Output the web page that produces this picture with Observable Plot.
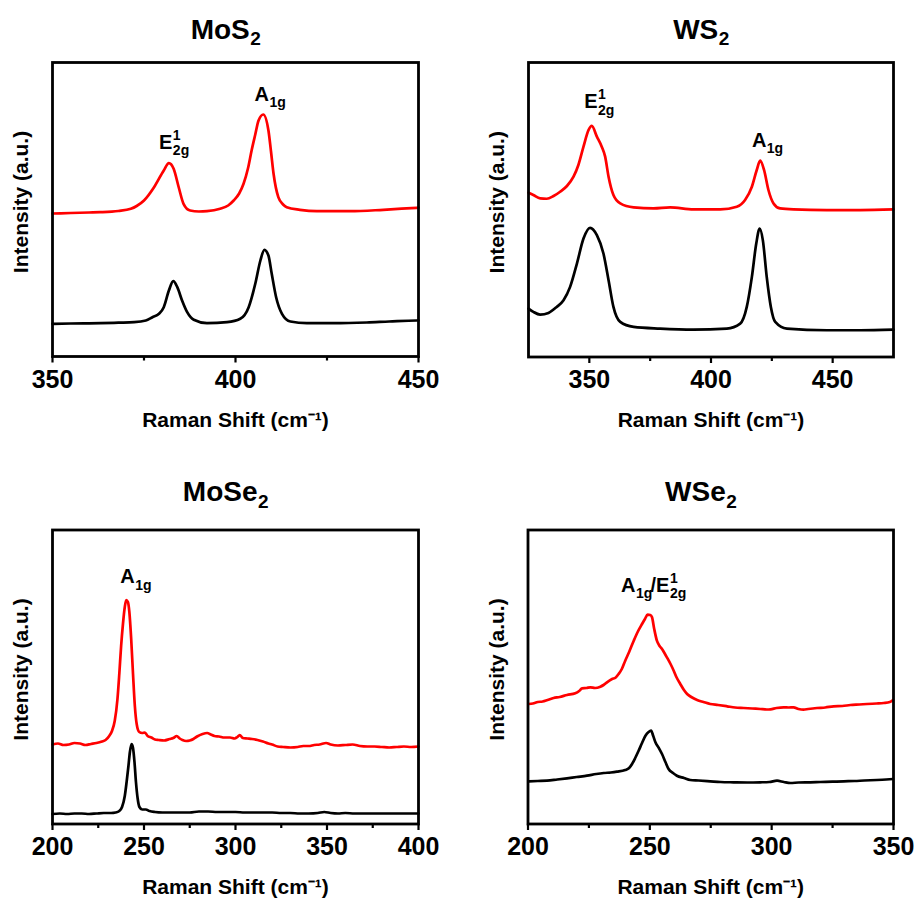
<!DOCTYPE html>
<html><head><meta charset="utf-8">
<script src="https://cdn.jsdelivr.net/npm/d3@7"></script>
<script src="https://cdn.jsdelivr.net/npm/@observablehq/plot@0.6"></script>
<style>
body{margin:0;background:#fff;}
#root{position:relative;width:917px;height:901px;overflow:hidden;background:#fff;}
#root svg{position:absolute;overflow:visible;}
</style></head><body><div id="root"></div>
<script>
// ---------------- DATA (Raman shift cm^-1, intensity a.u.) ----------------
const mos2Red = [[350,143],[355,143.5],[360,144],[363,144.3],[368,145.5],[371.4,147.7],[373,150.5],[375,156],[377.7,169],[380.4,186],[381.8,193.3],[383.1,187.7],[384.5,169],[385.8,152.7],[387.6,146],[390,145],[392.2,145.3],[395.8,147.7],[398,151],[399.5,156],[401,163],[402.2,172.7],[403.4,188],[404.4,206],[405.4,222],[406.3,236],[407.6,242],[409,226],[409.7,205],[410.4,182.7],[411.7,159.3],[413,152],[414,149.3],[417.6,146.7],[422.2,145.3],[431.3,145.3],[440.4,146.7],[449.5,148.7],[450,148.8]];
const mos2Black = [[350,32.7],[355,33],[363.2,33.3],[368,33.8],[372.3,34.3],[375.5,36],[377.3,39.3],[379.1,42.7],[380.4,49.3],[381.8,66],[383,75.3],[384.1,69.3],[385.4,56],[386.8,44.3],[388.6,36.7],[392.2,33.3],[397.7,34.3],[401.3,37.7],[403.6,49.3],[405.4,72.7],[406.8,96],[407.9,106.7],[409,101],[409.9,82.7],[411.1,59.3],[412.7,42.7],[415,35],[419.5,33.3],[426.8,33.3],[435.9,34],[442,35],[449.5,36],[450,36]];

const ws2Red = [[325,164],[327,161.7],[329.8,158.3],[332.5,158],[335.3,160.7],[338,165],[340.8,170.7],[343.5,180],[345.5,191.7],[347.6,210],[349.7,226.7],[351,230.7],[353.1,220],[355.1,210],[356.5,200],[357.9,180],[359.9,161.7],[362.7,153.3],[368.2,149.3],[376.4,148.3],[383.2,149.3],[392.8,147.3],[403.8,147.3],[410.6,150],[414,156.7],[416.8,170],[418.8,186.7],[420.2,196],[421.8,186.7],[423.6,166.7],[425.7,153.3],[428.4,148.3],[433.9,147.3],[447.6,146.7],[461.3,146.7],[475,147.3]];
const ws2Black = [[325,48.3],[327,45],[329.8,42.3],[333.2,44],[336.6,50],[339.4,56.7],[342.1,70],[344.9,93.3],[347.6,118.3],[350.3,129],[353.1,121.7],[355.8,103.3],[357.9,76.7],[359.9,50],[362.7,35],[368.2,30],[379.1,28.3],[392.8,27.3],[406.5,28.3],[412,33.3],[414.7,50],[416.8,80],[418.6,113.3],[420,128.3],[421.3,116.7],[422.9,80],[424.6,50],[426.4,35],[431.2,28.3],[447.6,26.7],[461.3,26.7],[475,27.3]];

const mose2Red = [[200,79.5],[203,80.5],[206,79],[209,79.5],[212,81],[215,80.5],[218,79],[221,80],[224,81],[227,82.5],[229,84],[231,88],[232.5,93],[234,103],[235.5,125],[236.5,150],[237.5,178],[238.5,200],[239.5,217],[240.3,224],[241.2,222],[242,212],[243,185],[244,150],[245,118],[246,100],[247.4,92],[249,91],[250.5,91.5],[252,88],[254,86.5],[256,84.5],[258,84],[261,83.5],[264,85],[266,86],[267.9,88],[269.5,85.5],[271,84],[273,83],[275,83.5],[277,85],[279,87.5],[282,90],[284.5,91],[286.5,89.5],[288.5,88],[291,87.5],[294,86.5],[297,86.5],[299.5,85.5],[301,87],[302.3,89],[304,86],[306.5,85.5],[309,85],[312,84],[315,82.5],[318,80.5],[320,79.5],[323,77.5],[326,77],[330,76.5],[334,77],[337,78],[340,78],[343,79],[346,79.5],[349.5,81],[352,79.5],[356,78.5],[360,79],[364,79.5],[368,78],[372,77.5],[376,77.5],[380,77],[384,76.5],[388,77],[392,77.5],[396,77],[400,77.5]];
const mose2Black = [[200,10],[204,10.5],[208,10],[212,10.5],[216,10.5],[220,10],[224,10.5],[228,11],[232,11],[234.5,11.5],[236.5,13],[238,17],[239.5,28],[240.5,42],[241.5,58],[242.3,72],[243.2,80],[244,76],[244.8,62],[245.6,42],[246.5,26],[247.5,17],[249,14.5],[251,14.5],[253,13],[256,12],[260,11.5],[265,11.5],[270,11.5],[275,11.5],[280,12.5],[285,12.5],[290,12],[295,12],[300,12],[305,11.5],[310,11.5],[315,11.5],[320,11.5],[325,11],[330,11],[335,10.5],[340,10.5],[345,11],[348.5,12],[352,11],[356,10.5],[360,11],[365,10.5],[370,10.5],[375,10.5],[380,10.5],[385,10.5],[390,10.5],[395,10.5],[400,10.5]];

const wse2Red = [[200.3,120],[202,120.5],[204,122],[206,122.5],[208,124],[210.5,126],[213,127],[216,129],[219.4,130.7],[221,133],[222.2,135.7],[224,136],[225.6,136.7],[227.5,136],[229.7,137.3],[231,139],[232.4,141.7],[234.5,145],[236,146.5],[237.2,150],[238.5,155],[239.9,163.3],[241.5,172],[243.4,183.3],[245,192],[246.8,200],[248,205],[249.1,209.3],[250.2,209],[250.9,206.7],[251.8,195],[252.9,183.3],[254,178],[255,175],[256,171],[257,166.7],[258.5,160],[259.8,153.3],[261,146.5],[262.5,140],[264,134],[265.3,130],[267,127],[269.4,124],[272,122],[274.8,120],[278,119],[281.7,117.7],[285,116.5],[288.5,116],[292,115.5],[295.3,115],[298,114.5],[299.5,114.7],[302,116],[304.9,116.7],[307,116.5],[309,116.7],[311,115],[313.1,114.3],[315,115],[318.6,116],[322,116.5],[325.4,117.7],[329,118],[332.3,119],[336,119.5],[339.1,120],[343,120.5],[346,121],[348.5,122],[349.8,124]];
const wse2Black = [[200.3,42.7],[204,43],[207.8,43.3],[212,44.5],[216,45.7],[220,47],[224.2,48.3],[228,50],[231.1,51],[234,51.5],[236.5,52.3],[239.9,54],[241.5,56],[242.7,60],[244,66],[245.4,73.3],[246.8,81],[248.2,88.3],[249.5,92],[250.5,93.3],[251.4,88],[252.3,81.7],[253.7,76],[255,70],[256.4,62],[257.7,55],[259.5,51],[261.1,48.3],[264,46],[266.6,44],[270,43.5],[274.8,42.7],[279,42],[284.4,41.7],[290,41.5],[295.3,41.7],[299,42],[302.2,43.3],[305,42],[307.7,41],[311,41.5],[315.9,41.7],[320,42],[325,42.3],[329.6,42.7],[334,43],[338,43.5],[343.2,44],[347,44.5],[349.8,45]];

const mos2Ticks = [350, 400, 450];
const ws2Ticks = [350, 400, 450];
const mose2Ticks = [200, 250, 300, 350, 400];
const wse2Ticks = [200, 250, 300, 350];
const mos2Minor = [375, 425];
const ws2Minor = [375, 425];
const mose2Minor = [225, 275, 325, 375];
const wse2Minor = [225, 275, 325];

const titleMain = {MoS2: "MoS", WS2: "WS", MoSe2: "MoSe", WSe2: "WSe"};
const titleSub = {MoS2: "2", WS2: "2", MoSe2: "2", WSe2: "2"};
const xLabel = "Raman Shift (cm\u207B\u00B9)";
const yLabel = "Intensity (a.u.)";

const peakLabels = [
  {panel: "MoS2", x: 379.1, y: 207.7, main: "E", sup: "1", sub: "2g"},
  {panel: "MoS2", x: 405.2, y: 256, main: "A", sub: "1g"},
  {panel: "WS2", x: 347.9, y: 248.3, main: "E", sup: "1", sub: "2g"},
  {panel: "WS2", x: 416.8, y: 210, main: "A", sub: "1g"},
  {panel: "MoSe2", x: 237, y: 240.7, main: "A", sub: "1g"},
  {panel: "WSe2", x: 238.2, y: 232.3, main: "A", sub: "1g"},
  {panel: "WSe2", x: 250.3, y: 232.3, main: "/E", sup: "1", sub: "2g"}
];

// ---------------- LAYOUT ----------------
const panels = [
  {key: "MoS2", red: mos2Red, black: mos2Black, domain: [350, 450], ticks: mos2Ticks, minor: mos2Minor,
   left: 0, top: 0, width: 459, height: 450, mL: 52, mR: 41, mT: 62, mB: 94, titleDy: -23.7, xDy: 64},
  {key: "WS2", red: ws2Red, black: ws2Black, domain: [325, 475], ticks: ws2Ticks, minor: ws2Minor,
   left: 459, top: 0, width: 458, height: 450, mL: 69, mR: 24, mT: 62, mB: 93.5, titleDy: -23.7, xDy: 63.5},
  {key: "MoSe2", red: mose2Red, black: mose2Black, domain: [200, 400], ticks: mose2Ticks, minor: mose2Minor,
   left: 0, top: 450, width: 459, height: 451, mL: 52, mR: 41, mT: 79.5, mB: 77.5, titleDy: -28.8, xDy: 63},
  {key: "WSe2", red: wse2Red, black: wse2Black, domain: [200, 350], ticks: wse2Ticks, minor: wse2Minor,
   left: 459, top: 450, width: 458, height: 451, mL: 68.5, mR: 24, mT: 79.5, mB: 77.5, titleDy: -28.8, xDy: 63}
];

const charW = {M:.833,o:.611,S:.667,W:.944,e:.556,A:.722,E:.667,"/":.278,"1":.556,"2":.556,g:.611};
const textWidth = (s, size) => d3.sum(Array.from(s), c => charW[c] ?? .6) * size;
const FONT = "'Liberation Sans', Arial, Helvetica, sans-serif";

const root = document.getElementById("root");
for (const p of panels) {
  const tw = textWidth(titleMain[p.key], 28), sw = textWidth(titleSub[p.key], 19);
  const mainEnd = -10 - (tw + sw) / 2 + tw;
  const marks = [
    Plot.line(p.black, {x: d => d[0], y: d => d[1], stroke: "black", strokeWidth: 2.7, curve: "monotone-x"}),
    Plot.line(p.red, {x: d => d[0], y: d => d[1], stroke: "#ff0000", strokeWidth: 2.7, curve: "monotone-x"}),
    Plot.frame({stroke: "black", strokeWidth: 2.8}),
    Plot.axisX({ticks: p.ticks, tickSize: 6.5, tickPadding: 7, fontSize: 25, strokeWidth: 2.2, label: null, tickFormat: d => String(d)}),
    Plot.axisX({ticks: p.minor, tickSize: 4.5, tickPadding: 0, strokeWidth: 2.2, label: null, tickFormat: () => ""}),
    Plot.text([yLabel], {text: d => d, frameAnchor: "left", rotate: -90, dx: -31, dy: -7.5, fontSize: 21, textAnchor: "middle", lineAnchor: "middle"}),
    Plot.text([xLabel], {text: d => d, frameAnchor: "bottom", dy: p.xDy, fontSize: 21, textAnchor: "middle", lineAnchor: "middle"}),
    Plot.text([titleMain[p.key]], {text: d => d, frameAnchor: "top", textAnchor: "end", lineAnchor: "bottom", fontSize: 28, dx: mainEnd, dy: p.titleDy}),
    Plot.text([titleSub[p.key]], {text: d => d, frameAnchor: "top", textAnchor: "start", lineAnchor: "bottom", fontSize: 19, dx: mainEnd + 0.5, dy: p.titleDy + 6.5})
  ];
  for (const l of peakLabels.filter(d => d.panel === p.key)) {
    const mw = textWidth(l.main, 20) + 0.5;
    marks.push(Plot.text([l], {x: "x", y: "y", text: "main", textAnchor: "start", lineAnchor: "bottom", fontSize: 20}));
    if (l.sub) marks.push(Plot.text([l], {x: "x", y: "y", text: "sub", textAnchor: "start", lineAnchor: "bottom", fontSize: 14, dx: mw, dy: 6.5}));
    if (l.sup) marks.push(Plot.text([l], {x: "x", y: "y", text: "sup", textAnchor: "start", lineAnchor: "bottom", fontSize: 14, dx: mw, dy: -9}));
  }
  const svg = Plot.plot({
    width: p.width, height: p.height,
    marginLeft: p.mL, marginRight: p.mR, marginTop: p.mT, marginBottom: p.mB,
    x: {domain: p.domain, label: null},
    y: {domain: [0, 294], axis: null},
    style: {fontFamily: FONT, fontWeight: "bold", color: "black", background: "transparent", overflow: "visible"},
    marks
  });
  svg.style.left = p.left + "px";
  svg.style.top = p.top + "px";
  root.appendChild(svg);
}
</script></body></html>
